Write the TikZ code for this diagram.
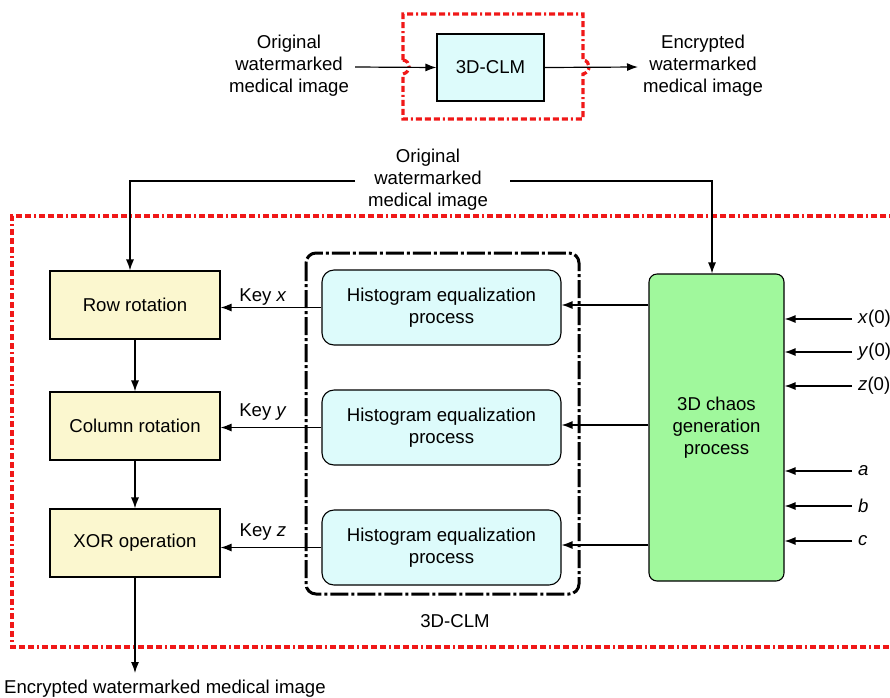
\documentclass[tikz,border=0pt]{standalone}
\usepackage{fontspec}
\setmainfont{Liberation Sans}
\usetikzlibrary{arrows.meta,positioning}
\definecolor{lcyan}{HTML}{DDFBFB}
\definecolor{lyellow}{HTML}{FBF7CF}
\definecolor{lgreen}{HTML}{A0F89C}
\definecolor{rdash}{HTML}{F01818}
\tikzset{
  txt/.style={font=\fontsize{18.6}{22}\selectfont, align=center, inner sep=0pt},
  ybox/.style={draw, line width=1.1pt, fill=lyellow, minimum width=170pt, minimum height=68pt, txt},
  hbox/.style={draw, line width=1.1pt, fill=lcyan, rounded corners=12pt, minimum width=239pt, minimum height=75pt, txt},
  arr/.style={-{Latex[length=11pt,width=8pt]}, line width=1.2pt},
  reddash/.style={draw=rdash, line width=3.2pt, dash pattern=on 6pt off 3pt on 6pt off 3pt on 6pt off 3pt on 2pt off 3pt},
  blkdash/.style={draw=black, line width=3pt, dash pattern=on 18pt off 3pt on 3pt off 3pt, rounded corners=10pt},
}
\begin{document}
\begin{tikzpicture}[x=1pt,y=-1pt]
\useasboundingbox (0,0) rectangle (890,697);
\clip (0,0) rectangle (890,697);
% ---------- top small diagram ----------
\draw[reddash] (403,60) -- (403,14) -- (583,14) -- (583,60)
  .. controls (591,61) and (591,72) .. (583,74) -- (583,119) -- (403,119) -- (403,74)
  .. controls (411,72) and (411,61) .. (403,60);
\node[draw, line width=1.1pt, fill=lcyan, minimum width=107pt, minimum height=67pt, txt] (clm) at (490.5,67.5) {3D-CLM};
\node[txt] (tin) at (289,66) {Original\\watermarked\\medical image};
\node[txt] (tout) at (703,66) {Encrypted\\watermarked\\medical image};
\coordinate (tins) at (355,67);
\coordinate (toute) at (638,67);
\draw[arr] (tins) -- (clm.west);
\draw[arr] (clm.east) -- (toute);
% ---------- main diagram ----------
\draw[reddash] (895,216) -- (12,216) -- (12,647) -- (895,647);
\node[txt] (orig) at (428,180) {Original\\watermarked\\medical image};
\draw[blkdash] (306,253) rectangle (579,594);
\node[txt] at (455,621) {3D-CLM};

\node[ybox] (row) at (135,305) {Row rotation};
\node[ybox] (col) at (135,426) {Column rotation};
\node[ybox] (xor) at (135,543) {XOR operation};

\node[hbox] (h1) at (441.5,307.5) {Histogram equalization\\process};
\node[hbox] (h2) at (441.5,427.5) {Histogram equalization\\process};
\node[hbox] (h3) at (441.5,547.5) {Histogram equalization\\process};

\node[draw, line width=1.1pt, fill=lgreen, rounded corners=8pt, minimum width=135pt, minimum height=307pt, txt] (chaos) at (716.5,427.5) {3D chaos\\generation\\process};

\coordinate (ol) at (355,181);
\coordinate (or) at (510,181);
\draw[arr] (ol) -- (130,181) -- (row.north -| 130,0);
\draw[arr] (or) -- (712,181) -- (chaos.north -| 712,0);

\draw[arr] (row.south) -- (col.north);
\draw[arr] (col.south) -- (xor.north);
\coordinate (outend) at (135,673);
\draw[arr] (xor.south) -- (outend);
\node[txt, anchor=west] (enc) at (4,689) {Encrypted watermarked medical image};

\draw[arr] (h1.west) -- (row.east |- h1.west);
\draw[arr] (h2.west) -- (col.east |- h2.west);
\draw[arr] (h3.west) -- (xor.east |- h3.west);
\node[txt, anchor=base] at (263,301) {Key \textit{x}};
\node[txt, anchor=base] at (263,416) {Key \textit{y}};
\node[txt, anchor=base] at (263,536) {Key \textit{z}};

\draw[arr] (chaos.west |- 0,305) -- (h1.east |- 0,305);
\draw[arr] (chaos.west |- 0,425) -- (h2.east |- 0,425);
\draw[arr] (chaos.west |- 0,545) -- (h3.east |- 0,545);

\foreach \yy/\lab/\nm in {319/{\textit{x}(0)}/ix, 352/{\textit{y}(0)}/iy, 386/{\textit{z}(0)}/iz, 471/{\textit{a}}/ia, 506/{\textit{b}}/ib, 541/{\textit{c}}/ic}{
  \coordinate (\nm s) at (852,\yy);
  \node[txt, anchor=west] (\nm) at (858,\yy) {\lab};
  \draw[arr] (\nm s) -- (chaos.east |- \nm s);
}
\end{tikzpicture}
\end{document}
